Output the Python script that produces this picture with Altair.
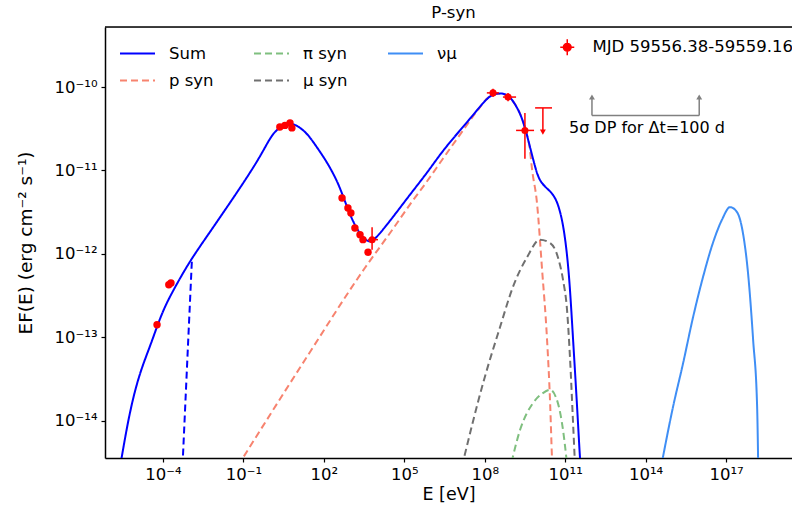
import altair as alt
import pandas as pd

# ---------------- values (log10 units) ----------------
# x: log10(E / eV), y: log10(EF(E) / erg cm^-2 s^-1)
sum_logE = [-5.57, -5.23, -4.86, -4.48, -4.22, -3.93, -3.55, -3.18, -2.81, -2.25,
            -1.61, -1.02, -0.38, -0.01, 0.29, 0.74, 1.00, 1.37, 1.74, 2.12,
            2.49, 2.71, 3.16, 3.65, 3.91, 4.58, 5.21, 5.85, 6.44, 7.08,
            7.71, 8.12, 8.42, 8.83, 9.05, 9.32, 9.50, 9.69, 9.88, 10.06,
            10.51, 10.73, 10.92, 11.07, 11.18, 11.29, 11.44, 11.55, 11.59]
sum_logF = [-14.50, -13.87, -13.42, -13.11, -12.87, -12.63, -12.40, -12.19, -12.00, -11.74,
            -11.44, -11.16, -10.84, -10.61, -10.49, -10.43, -10.46, -10.55, -10.72, -10.90,
            -11.12, -11.30, -11.69, -11.88, -11.83, -11.56, -11.29, -11.03, -10.76, -10.52,
            -10.28, -10.12, -10.07, -10.08, -10.16, -10.31, -10.48, -10.72, -10.96, -11.15,
            -11.26, -11.39, -11.63, -11.99, -12.40, -13.00, -13.79, -14.45, -14.60]

psyn_logE = [-1.20, 1.30, 3.53, 4.58, 5.21, 5.85, 6.44, 7.08, 7.71, 8.12, 8.42, 8.83,
             9.05, 9.32, 9.50, 9.69, 9.76, 9.95, 10.14, 10.32, 10.44, 10.51, 10.53]
psyn_logF = [-14.54, -13.27, -12.17, -11.70, -11.41, -11.13, -10.86, -10.57, -10.29, -10.13,
             -10.08, -10.10, -10.17, -10.32, -10.49, -10.76, -10.97, -11.39, -12.19, -13.00,
             -13.79, -14.45, -14.60]

musyn_logE = [7.15, 7.94, 8.57, 9.05, 9.58, 10.06, 10.44, 10.73, 10.92, 11.07, 11.18, 11.29, 11.37]
musyn_logF = [-14.55, -13.55, -12.88, -12.40, -12.04, -11.83, -11.87, -12.04, -12.31, -12.67,
              -13.24, -13.99, -14.55]

pisyn_logE = [9.00, 9.32, 9.80, 10.17, 10.44, 10.73, 10.92, 11.08]
pisyn_logF = [-14.50, -14.11, -13.79, -13.67, -13.63, -13.79, -14.11, -14.55]

numu_logE = [14.58, 15.02, 15.40, 15.77, 16.14, 16.51, 16.85, 17.15, 17.41, 17.63,
             17.82, 18.01, 18.16, 18.20]
numu_logF = [-14.55, -13.84, -13.31, -12.76, -12.28, -11.87, -11.59, -11.44, -11.50, -11.75,
             -12.23, -13.03, -13.84, -14.55]

esyn_logE = [-3.27, -3.07, -2.92]
esyn_logF = [-14.55, -13.13, -12.08]

# observed points (MJD 59556.38-59559.16)
obs_logE = [-4.22, -3.78, -3.70, 0.36, 0.55, 0.74, 0.81, 2.68, 2.90, 3.01, 3.16, 3.35, 3.46, 3.65]
obs_logF = [-12.85, -12.37, -12.35, -10.48, -10.46, -10.43, -10.49, -11.33, -11.45, -11.51,
            -11.69, -11.77, -11.83, -11.98]

err_logE = [3.80, 8.31, 8.87, 9.50]
err_logF = [-11.83, -10.07, -10.12, -10.52]
err_logElo = [3.65, 8.08, 8.68, 9.17]
err_logEhi = [4.02, 8.53, 9.17, 9.84]
err_logFlo = [-11.95, -10.12, -10.17, -10.86]
err_logFhi = [-11.68, -10.02, -10.07, -10.31]

ul_logE = [10.17]
ul_logElo = [9.88]
ul_logEhi = [10.51]
ul_logF = [-10.25]
ul_logTip = [-10.54]

dp_logE = [12.0, 16.0]
dp_logTop = [-10.12, -10.12]
dp_logBot = [-10.34, -10.34]
dp_text = ["5σ DP for Δt=100 d"]
dp_text_logE = [14.05]
dp_text_logF = [-10.49]

series_names = ["Sum", "p syn", "π syn", "μ syn", "νμ"]
series_colors = ["#0000ff", "#f7836f", "#7fbf7f", "#707070", "#3f8ef5"]
series_dash = [[1, 0], [7, 4], [7, 4], [7, 4], [1, 0]]
obs_label = "MJD 59556.38-59559.16"

x_ticks = [-4, -1, 2, 5, 8, 11, 14, 17]
y_ticks = [-14, -13, -12, -11, -10]

# ---------------- tables ----------------
def p10(v):
    return [10.0 ** a for a in v]

rows = []
for name, le, lf in [("Sum", sum_logE, sum_logF), ("p syn", psyn_logE, psyn_logF),
                     ("π syn", pisyn_logE, pisyn_logF), ("μ syn", musyn_logE, musyn_logF),
                     ("νμ", numu_logE, numu_logF)]:
    for i, (a, b) in enumerate(zip(le, lf)):
        rows.append({"series": name, "E": 10.0 ** a, "F": 10.0 ** b, "i": i})
lines_df = pd.DataFrame(rows)
esyn_df = pd.DataFrame({"E": p10(esyn_logE), "F": p10(esyn_logF), "i": list(range(len(esyn_logE)))})
obs_df = pd.DataFrame({"E": p10(obs_logE), "F": p10(obs_logF), "lab": obs_label})
err_df = pd.DataFrame({"E": p10(err_logE), "F": p10(err_logF), "Elo": p10(err_logElo),
                       "Ehi": p10(err_logEhi), "Flo": p10(err_logFlo), "Fhi": p10(err_logFhi),
                       "lab": obs_label})
ul_df = pd.DataFrame({"E": p10(ul_logE), "Elo": p10(ul_logElo), "Ehi": p10(ul_logEhi),
                      "F": p10(ul_logF), "Tip": p10(ul_logTip)})
dp_df = pd.DataFrame({"E": p10(dp_logE), "Top": p10(dp_logTop), "Bot": p10(dp_logBot)})
dp_h_df = pd.DataFrame({"E1": [10.0 ** dp_logE[0]], "E2": [10.0 ** dp_logE[1]], "F": [10.0 ** dp_logBot[0]]})
txt_df = pd.DataFrame({"E": p10(dp_text_logE), "F": p10(dp_text_logF), "t": dp_text})

# ---------------- scales & axes ----------------
W, H = 687, 431
FONT = "DejaVu Sans"
FS = 16.5
SUP = str.maketrans("-0123456789", "⁻⁰¹²³⁴⁵⁶⁷⁸⁹")

def label_expr(exps):
    parts = [f"(round(log(datum.value)/LN10) == {e}) ? '10{str(e).translate(SUP)}'" for e in exps]
    return " : ".join(parts) + " : ''"

xscale = alt.Scale(type="log", domain=[10 ** -6.16, 10 ** 19.46], nice=False)
yscale = alt.Scale(type="log", domain=[10 ** -14.448, 10 ** -9.28], nice=False)

x_axis = alt.Axis(values=[10.0 ** e for e in x_ticks], labelExpr=label_expr(x_ticks),
                  title="E [eV]", grid=False, tickSize=4, tickWidth=1.2, tickColor="black",
                  domainColor="black", domainWidth=1.5, labelFontSize=FS, labelFont=FONT,
                  labelColor="black", labelPadding=4, labelFlush=False, labelOverlap=False,
                  titleFont=FONT, titleFontSize=17.5, titleFontWeight="normal",
                  titleColor="black", titlePadding=3)
y_axis = alt.Axis(values=[10.0 ** e for e in y_ticks], labelExpr=label_expr(y_ticks),
                  title="EF(E) (erg cm⁻² s⁻¹)", grid=False, tickSize=4, tickWidth=1.2,
                  tickColor="black", domainColor="black", domainWidth=1.5, labelFontSize=FS,
                  labelFont=FONT, labelColor="black", labelPadding=4, labelFlush=False,
                  labelOverlap=False, titleFont=FONT, titleFontSize=18.5,
                  titleFontWeight="normal", titleColor="black", titlePadding=19)

def X(f):
    return alt.X(f, type="quantitative", scale=xscale, axis=x_axis)

def Y(f):
    return alt.Y(f, type="quantitative", scale=yscale, axis=y_axis)

line_legend = alt.Legend(title=None, orient="none", legendX=14, legendY=8, columns=3,
                         columnPadding=36, rowPadding=-10, symbolType="stroke",
                         symbolSize=1225, symbolStrokeWidth=2, labelFontSize=FS,
                         labelFont=FONT, labelColor="black", labelOffset=13, padding=0)

obs_legend = alt.Legend(title=None, orient="none", legendX=454, legendY=12,
                        symbolType="M-1,0L1,0M0,-1.15L0,1.15M0.55,0A0.55,0.55,0,1,1,-0.55,0A0.55,0.55,0,1,1,0.55,0Z",
                        symbolSize=196, symbolStrokeColor="red", symbolStrokeWidth=1.5,
                        labelFontSize=FS, labelFont=FONT, labelColor="black",
                        labelOffset=17, labelLimit=400, padding=0)
obs_fill = alt.Fill("lab:N", scale=alt.Scale(domain=[obs_label], range=["red"]), legend=obs_legend)

color_enc = alt.Color("series:N", scale=alt.Scale(domain=series_names, range=series_colors), legend=line_legend)
dash_enc = alt.StrokeDash("series:N", scale=alt.Scale(domain=series_names, range=series_dash), legend=line_legend)

# ---------------- layers ----------------
frame_top = alt.Chart(pd.DataFrame({"a": [0]})).mark_rule(color="black", strokeWidth=1.5).encode(
    x=alt.value(0), x2=alt.value(W), y=alt.value(0))

comp_lines = alt.Chart(lines_df).transform_filter("datum.series != 'Sum'").mark_line(
    clip=True, strokeWidth=2, interpolate="monotone").encode(
    x=X("E"), y=Y("F"), color=color_enc, strokeDash=dash_enc, order="i:Q")

sum_line = alt.Chart(lines_df).transform_filter("datum.series == 'Sum'").mark_line(
    clip=True, strokeWidth=2, interpolate="basis").encode(
    x=X("E"), y=Y("F"), color=color_enc, strokeDash=dash_enc, order="i:Q")

esyn = alt.Chart(esyn_df).mark_line(clip=True, strokeWidth=2, color="#0000ff", strokeDash=[7, 4]).encode(
    x=X("E"), y=Y("F"), order="i:Q")

err_h = alt.Chart(err_df).mark_rule(color="red", strokeWidth=1.5).encode(x=X("Elo"), x2="Ehi", y=Y("F"))
err_v = alt.Chart(err_df).mark_rule(color="red", strokeWidth=1.5).encode(x=X("E"), y=Y("Flo"), y2="Fhi")
err_pt = alt.Chart(err_df).mark_circle(size=50, opacity=1).encode(x=X("E"), y=Y("F"), fill=obs_fill)
obs_pt = alt.Chart(obs_df).mark_circle(size=55, opacity=1).encode(x=X("E"), y=Y("F"), fill=obs_fill)

ul_cap = alt.Chart(ul_df).mark_rule(color="red", strokeWidth=1.5).encode(x=X("Elo"), x2="Ehi", y=Y("F"))
ul_stem = alt.Chart(ul_df).mark_rule(color="red", strokeWidth=1.5).encode(x=X("E"), y=Y("F"), y2="Tip")
ul_head = alt.Chart(ul_df).mark_point(shape="triangle-down", filled=True, size=35, color="red", opacity=1).encode(
    x=X("E"), y=Y("Tip"))

dp_v = alt.Chart(dp_df).mark_rule(color="#808080", strokeWidth=1.5).encode(x=X("E"), y=Y("Bot"), y2="Top")
dp_h = alt.Chart(dp_h_df).mark_rule(color="#808080", strokeWidth=1.5).encode(x=X("E1"), x2="E2", y=Y("F"))
dp_head = alt.Chart(dp_df).mark_point(shape="triangle-up", filled=True, size=35, color="#808080", opacity=1).encode(
    x=X("E"), y=Y("Top"))
dp_txt = alt.Chart(txt_df).mark_text(fontSize=16, font=FONT, color="black", align="center", baseline="middle").encode(
    x=X("E"), y=Y("F"), text="t:N")

chart = alt.layer(frame_top, comp_lines, sum_line, esyn, err_h, err_v, ul_cap, ul_stem, ul_head,
                  obs_pt, err_pt, dp_v, dp_h, dp_head, dp_txt).properties(
    width=W, height=H,
    title=alt.TitleParams("P-syn", fontSize=FS, font=FONT, fontWeight="normal", anchor="middle",
                          offset=5, dx=5, color="black"),
    autosize=alt.AutoSizeParams(type="none"),
    padding={"left": 105, "top": 27, "right": 0, "bottom": 54},
).configure_view(stroke=None).configure(font=FONT, background="white")

chart.save("out.html", embed_options={"renderer": "svg", "actions": False})
